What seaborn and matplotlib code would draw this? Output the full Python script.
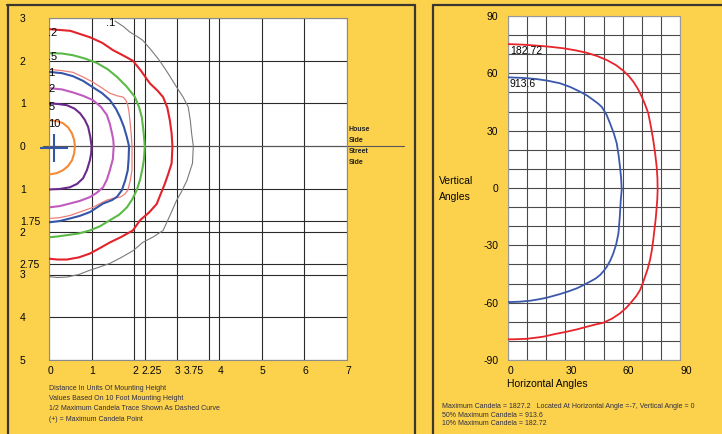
import numpy as np
import pandas as pd
import seaborn as sns
import matplotlib.pyplot as plt
import matplotlib.transforms as mtransforms
from matplotlib.lines import Line2D

# isofootcandle plot data (units of mounting height)
x_01 = [1.55, 1.75, 1.9, 2.05, 2.2, 2.4, 2.6, 2.8, 3.0, 3.15, 3.27, 3.32, 3.35, 3.39, 3.37, 3.24, 3.12, 3.0, 2.85, 2.68,
        2.45, 2.2, 1.98, 1.7, 1.43, 1.2, 0.96, 0.7, 0.42, 0.2, 0.0]
y_01 = [2.93, 2.8, 2.67, 2.58, 2.48, 2.25, 2.0, 1.7, 1.38, 1.15, 0.92, 0.6, 0.3, 0.0, -0.4, -0.8, -1.05, -1.26, -1.6, -1.97,
        -2.12, -2.25, -2.44, -2.6, -2.74, -2.82, -2.9, -3.0, -3.06, -3.07, -3.05]
x_02 = [0.0, 0.5, 0.96, 1.25, 1.5, 1.75, 1.97, 2.15, 2.37, 2.55, 2.68, 2.78, 2.84, 2.88, 2.9, 2.88, 2.8, 2.72, 2.63, 2.53,
        2.35, 2.14, 1.97, 1.7, 1.43, 1.2, 0.96, 0.7, 0.42, 0.2, 0.0]
y_02 = [2.74, 2.7, 2.55, 2.42, 2.25, 2.12, 2.0, 1.78, 1.47, 1.3, 1.15, 0.9, 0.6, 0.3, 0.0, -0.4, -0.65, -0.88, -1.1, -1.35,
        -1.55, -1.73, -1.97, -2.12, -2.25, -2.38, -2.51, -2.6, -2.65, -2.65, -2.63]
x_05 = [0.0, 0.3, 0.56, 0.85, 1.12, 1.38, 1.6, 1.82, 2.02, 2.12, 2.18, 2.22, 2.25, 2.23, 2.2, 2.14, 2.06, 1.95, 1.83, 1.65,
        1.43, 1.2, 0.96, 0.7, 0.42, 0.2, 0.0]
y_05 = [2.18, 2.17, 2.13, 2.05, 1.95, 1.8, 1.62, 1.4, 1.15, 0.9, 0.68, 0.35, 0.0, -0.3, -0.5, -0.78, -1.03, -1.25, -1.43, -1.6,
        -1.73, -1.87, -1.97, -2.04, -2.08, -2.11, -2.13]
x_1 = [0.0, 0.3, 0.56, 0.8, 1.03, 1.25, 1.43, 1.57, 1.67, 1.76, 1.83, 1.88, 1.87, 1.85, 1.79, 1.71, 1.6, 1.48, 1.27, 1.1,
       0.96, 0.72, 0.49, 0.25, 0.0]
y_1 = [1.74, 1.71, 1.64, 1.53, 1.38, 1.24, 1.08, 0.88, 0.68, 0.45, 0.21, 0.0, -0.3, -0.56, -0.8, -1.03, -1.18, -1.26, -1.34, -1.45,
       -1.54, -1.63, -1.69, -1.75, -1.78]
x_half = [0.0, 0.3, 0.56, 0.8, 1.03, 1.25, 1.43, 1.6, 1.74, 1.81, 1.85, 1.88, 1.9, 1.93, 1.95, 1.95, 1.95, 1.91, 1.85, 1.77,
          1.67, 1.5, 1.36, 1.2, 1.03, 0.75, 0.49, 0.25, 0.0]
y_half = [1.8, 1.77, 1.73, 1.62, 1.5, 1.36, 1.24, 1.18, 1.15, 1.07, 0.96, 0.8, 0.61, 0.3, 0.0, -0.3, -0.56, -0.8, -1.03, -1.13,
          -1.19, -1.22, -1.26, -1.34, -1.43, -1.53, -1.62, -1.67, -1.69]
x_2 = [0.0, 0.3, 0.56, 0.8, 1.03, 1.22, 1.36, 1.43, 1.48, 1.51, 1.52, 1.5, 1.43, 1.36, 1.27, 1.12, 0.96, 0.72, 0.49, 0.25, 0.0]
y_2 = [1.36, 1.33, 1.26, 1.18, 1.08, 0.92, 0.73, 0.52, 0.3, 0.15, 0.0, -0.3, -0.56, -0.78, -0.96, -1.09, -1.19, -1.28, -1.34,
       -1.4, -1.43]
x_5 = [0.0, 0.2, 0.42, 0.6, 0.73, 0.84, 0.92, 0.97, 1.0, 0.99, 0.96, 0.89, 0.8, 0.66, 0.49, 0.25, 0.0]
y_5 = [1.0, 0.99, 0.96, 0.88, 0.77, 0.62, 0.45, 0.22, 0.0, -0.17, -0.33, -0.56, -0.75, -0.88, -0.96, -1.0, -1.01]
x_10 = [0.0, 0.18, 0.33, 0.45, 0.54, 0.59, 0.61, 0.59, 0.54, 0.45, 0.33, 0.18, 0.0]
y_10 = [0.61, 0.59, 0.54, 0.44, 0.3, 0.15, 0.0, -0.17, -0.33, -0.46, -0.56, -0.63, -0.66]
max_point = (0.12, -0.05)

contour_labels = ['.1', '.2', '.5', '1', '2', '5', '10']
label_x = [1.34, -0.02, -0.02, -0.02, -0.02, -0.02, -0.02]
label_y = [2.88, 2.65, 2.08, 1.71, 1.33, 0.91, 0.52]

left_xticks = [0, 1, 2, 2.25, 3, 3.75, 4, 5, 6, 7]
left_xlabels = ['0', '1', '2', '2.25', '3', '3.75', '4', '5', '6', '7']
left_yticks = [3, 2, 1, 0, -1, -1.75, -2, -2.75, -3, -4, -5]
left_ylabels = ['3', '2', '1', '0', '1', '1.75', '2', '2.75', '3', '4', '5']

# candela trace data (degrees)
h_10pct = [0, 8, 15, 22, 29, 35, 41, 46.5, 51.6, 56.5, 60.3, 63.2, 65.6, 68, 70, 71.8, 73.4, 74.8, 76, 77, 77.8, 78.2,
           78.3, 78.1, 77.3, 76, 75.2, 74.3, 73.1, 71.7, 70.4, 69.1, 67.1, 64.7, 61.8, 58.6, 54.5, 49.9, 45.5, 41.2,
           36, 30.7, 23.7, 18.5, 14, 9.8, 5, 0]
v_10pct = [75.3, 75.0, 74.5, 73.9, 73.1, 72.1, 70.8, 69.1, 67, 64.3, 61.4, 58.6, 55.6, 51.8, 47.8, 43.5, 39.1, 32, 25.1,
           18, 11.1, 5, -1, -6.3, -16, -27.2, -33, -37.7, -42.3, -46.4, -50.2, -53.4, -56.6, -59.5, -62.8, -65.6, -68.3,
           -70.5, -71.5, -72.6, -74, -75.2, -76.6, -77.8, -78.4, -78.9, -79.1, -79.2]
h_50pct = [0, 8, 15, 21, 27.2, 32.7, 37.7, 41.5, 44.7, 47, 49, 51.5, 53.4, 55.4, 56.9, 57.9, 58.6, 59.2, 59.5, 59, 58.5,
           57.8, 56.6, 55.1, 53.5, 51.7, 50, 48.2, 45.8, 42.9, 39.5, 36, 31.6, 27.2, 20.3, 15.8, 11.5, 6, 0]
v_50pct = [57.9, 57.6, 57, 56.1, 54.8, 52.8, 50.4, 48.3, 46, 44.3, 42.5, 38.5, 33.8, 28.5, 23.4, 17, 11.1, 5, -1, -6.3, -15,
           -23.7, -29.5, -34.2, -38, -41.2, -43.5, -45.5, -47.4, -49, -50.8, -52.5, -54.1, -55.5, -57.4, -58.3, -59,
           -59.5, -59.7]

sns.set_theme(style='white')
plt.rcParams['font.family'] = ['Liberation Sans', 'DejaVu Sans']
plt.rcParams['axes.unicode_minus'] = False

W, H = 722, 434
bg = '#FCD24C'
ink = '#050505'
fig = plt.figure(figsize=(W / 100, H / 100), dpi=100, facecolor=bg)

def px(x0, y0, x1, y1):
    return [x0 / W, 1 - y1 / H, (x1 - x0) / W, (y1 - y0) / H]

# panel borders
border = '#3b3630'
for xs, ys in [([7.5, 7.5], [5, 440]), ([7, 415], [5, 5]), ([415, 415], [5, 440]),
               ([432.5, 432.5], [5, 440]), ([432.5, 730], [5, 5])]:
    fig.add_artist(Line2D([v / W for v in xs], [1 - v / H for v in ys], color=border, lw=1.6))

# ---------------- left: isofootcandle ----------------
ax = fig.add_axes(px(49, 18, 347, 360))
ax.set_facecolor('white')
curves = [
    (x_01, y_01, '#7a7a7a', 0.8),
    (x_02, y_02, '#E3222B', 1.5),
    (x_05, y_05, '#5BBA47', 1.5),
    (x_half, y_half, '#EE7E78', 0.9),
    (x_1, y_1, '#3556A8', 1.5),
    (x_2, y_2, '#C15BBE', 1.5),
    (x_5, y_5, '#6B2A8C', 1.5),
    (x_10, y_10, '#F58A36', 1.5),
]
for cx, cy, c, lw in curves:
    sns.lineplot(x=cx, y=cy, sort=False, estimator=None, color=c, lw=lw, ax=ax, zorder=3)

ax.set_xlim(0, 7)
ax.set_ylim(-5, 3)
ax.set_xticks(left_xticks)
ax.set_xticklabels(left_xlabels)
ax.set_yticks(left_yticks)
ax.set_yticklabels(left_ylabels)
ax.grid(True, color='#2a2a2a', lw=0.8)
ax.tick_params(length=0, labelsize=7.5, colors=ink)
ax.tick_params(axis='y', pad=21)
ax.tick_params(axis='x', pad=4)
for lab in ax.get_yticklabels():
    lab.set_horizontalalignment('left')
for lab, shift in zip(ax.get_xticklabels(), [1, 1, 1, 7, 1, -15, 1, 1, 1, 1]):
    lab.set_transform(lab.get_transform() + mtransforms.ScaledTranslation(shift / 100, 0, fig.dpi_scale_trans))
for s in ax.spines.values():
    s.set_color('#8a8a8a')
    s.set_linewidth(0.8)

ax.axhline(0, xmin=-0.02, xmax=1.19, color='#555555', lw=0.8, clip_on=False, zorder=2)
ax.plot(*max_point, marker='+', ms=20, mew=1.5, color='#3556A8', clip_on=False, zorder=5)

for t, lx, ly in zip(contour_labels, label_x, label_y):
    ax.text(lx, ly, t, fontsize=8, color=ink, ha='left', va='center', zorder=6)

for t, ly in zip(['House', 'Side', 'Street', 'Side'], [0.40, 0.14, -0.12, -0.37]):
    ax.text(7.04, ly, t, fontsize=5, fontweight='bold', color='#222222', ha='left', va='center', clip_on=False)

notes_left = ['Distance In Units Of Mounting Height',
              'Values Based On 10 Foot Mounting Height',
              '1/2 Maximum Candela Trace Shown As Dashed Curve',
              '(+) = Maximum Candela Point']
for t, yy in zip(notes_left, [388, 398.5, 409, 419.5]):
    fig.text(49 / W, 1 - yy / H, t, fontsize=5, color='#2d2d45', ha='left', va='center')

# ---------------- right: candela traces ----------------
ax2 = fig.add_axes(px(508, 16, 680, 360))
ax2.set_facecolor('white')
sns.lineplot(x=h_10pct, y=v_10pct, sort=False, estimator=None, color='#E8232B', lw=1.3, ax=ax2, zorder=3)
sns.lineplot(x=h_50pct, y=v_50pct, sort=False, estimator=None, color='#3B58AC', lw=1.3, ax=ax2, zorder=3)
ax2.set_xlim(0, 90)
ax2.set_ylim(-90, 90)
ax2.set_xticks(np.arange(0, 91, 10), minor=True)
ax2.set_yticks(np.arange(-90, 91, 10), minor=True)
ax2.set_xticks([0, 30, 60, 90])
ax2.set_yticks([-90, -60, -30, 0, 30, 60, 90])
ax2.grid(True, which='both', color='#4a4a4a', lw=0.8)
ax2.tick_params(which='both', length=0, labelsize=7.5, colors=ink)
ax2.tick_params(axis='y', pad=7)
ax2.tick_params(axis='x', pad=4)
for lab in ax2.get_xticklabels():
    lab.set_horizontalalignment('left')
for s in ax2.spines.values():
    s.set_color('#999999')
    s.set_linewidth(0.8)

ax2.text(1.0, 71.7, '182.72', fontsize=7.5, color=ink, ha='left', va='center', zorder=6)
ax2.text(1.0, 54.4, '913.6', fontsize=7.5, color=ink, ha='left', va='center', zorder=6)

fig.text(439 / W, 1 - 181 / H, 'Vertical', fontsize=7.5, color=ink, ha='left', va='center')
fig.text(439 / W, 1 - 197 / H, 'Angles', fontsize=7.5, color=ink, ha='left', va='center')
fig.text(507 / W, 1 - 384 / H, 'Horizontal Angles', fontsize=7.5, color=ink, ha='left', va='center')

notes_right = ['Maximum Candela = 1827.2   Located At Horizontal Angle =-7, Vertical Angle = 0',
               '50% Maximum Candela = 913.6',
               '10% Maximum Candela = 182.72']
for t, yy in zip(notes_right, [407, 415.2, 423.4]):
    fig.text(442 / W, 1 - yy / H, t, fontsize=5, color='#2d2d45', ha='left', va='center')

fig.savefig('out.png', dpi=100, facecolor=bg)
